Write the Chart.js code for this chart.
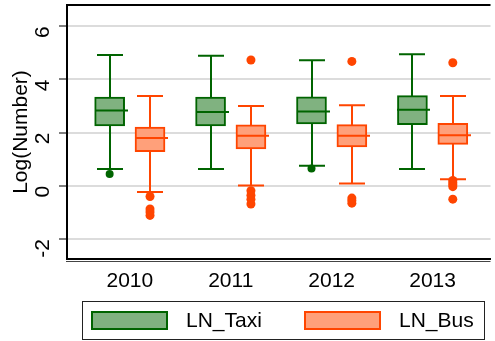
<!DOCTYPE html>
<html>
<head>
<meta charset="utf-8">
<script src="https://cdn.jsdelivr.net/npm/chart.js@4"></script>
<style>
  html, body { margin: 0; padding: 0; background: #fff; }
  #wrap { width: 495px; height: 341px; }
</style>
</head>
<body>
<div id="wrap"><canvas id="c" width="495" height="341"></canvas></div>
<script>
// Yearly distributions of log counts, one box per vehicle type
const years = ['2010', '2011', '2012', '2013'];
const seriesNames = ['LN_Taxi', 'LN_Bus'];

const taxiLow     = [0.63, 0.63, 0.76, 0.63];
const taxiQ1      = [2.25, 2.25, 2.33, 2.30];
const taxiMedian  = [2.83, 2.78, 2.80, 2.86];
const taxiQ3      = [3.34, 3.34, 3.35, 3.39];
const taxiHigh    = [4.92, 4.89, 4.72, 4.95];
const taxiOutliers = [[0.45], [], [0.65], []];

const busLow      = [-0.23, 0.01, 0.09, 0.25];
const busQ1       = [1.29, 1.39, 1.46, 1.56];
const busMedian   = [1.80, 1.88, 1.88, 1.90];
const busQ3       = [2.21, 2.29, 2.30, 2.35];
const busHigh     = [3.38, 3.00, 3.03, 3.38];
const busOutliers = [
  [-0.40, -0.87, -0.98, -1.11],
  [4.73, -0.18, -0.35, -0.50, -0.68],
  [4.68, -0.46, -0.55, -0.65],
  [4.63, 0.20, 0.12, 0.04, -0.03, -0.50]
];

const yTicks = [-2, 0, 2, 4, 6];

const TAXI_LINE = 'rgb(0,100,0)';
const TAXI_FILL = 'rgb(128,178,128)';
const BUS_LINE = 'rgb(255,69,0)';
const BUS_FILL = 'rgb(255,160,122)';
const SHIFT = 0.2;
const FONT = { family: 'Liberation Sans, Arial, sans-serif', size: 21 };

function boxData(q1, q3, shift) {
  return q1.map((v, i) => ({ x: i + shift, y: [v, q3[i]] }));
}
function outlierData(list, shift) {
  const pts = [];
  list.forEach((vals, i) => vals.forEach(v => pts.push({ x: i + shift, y: v })));
  return pts;
}
function noScalePadding(s) {
  s.paddingTop = 0; s.paddingBottom = 0; s.paddingLeft = 0; s.paddingRight = 0;
}

const groups = [
  { low: taxiLow, med: taxiMedian, high: taxiHigh, q1: taxiQ1, q3: taxiQ3, shift: -SHIFT, color: TAXI_LINE },
  { low: busLow, med: busMedian, high: busHigh, q1: busQ1, q3: busQ3, shift: SHIFT, color: BUS_LINE }
];

// whiskers and caps behind the boxes, medians on top
const boxPlotLines = {
  id: 'boxPlotLines',
  beforeDatasetsDraw(chart) {
    const { ctx, scales: { x, y } } = chart;
    ctx.save();
    ctx.lineWidth = 2;
    groups.forEach(g => {
      ctx.strokeStyle = g.color;
      g.low.forEach((lo, i) => {
        const cx = Math.round(x.getPixelForValue(i + g.shift));
        const yLo = y.getPixelForValue(lo), yHi = y.getPixelForValue(g.high[i]);
        ctx.beginPath();
        ctx.moveTo(cx, yHi); ctx.lineTo(cx, yLo);
        ctx.moveTo(cx - 13, yHi); ctx.lineTo(cx + 13, yHi);
        ctx.moveTo(cx - 13, yLo); ctx.lineTo(cx + 13, yLo);
        ctx.stroke();
      });
    });
    ctx.restore();
  },
  afterDatasetsDraw(chart) {
    const { ctx, scales: { x, y } } = chart;
    ctx.save();
    ctx.lineWidth = 2;
    groups.forEach(g => {
      ctx.strokeStyle = g.color;
      g.med.forEach((m, i) => {
        const cx = Math.round(x.getPixelForValue(i + g.shift));
        const ym = y.getPixelForValue(m);
        ctx.beginPath();
        ctx.moveTo(cx - 15, ym); ctx.lineTo(cx + 18, ym);
        ctx.stroke();
      });
    });
    ctx.restore();
  },
  afterDraw(chart) {
    const { ctx, chartArea: a } = chart;
    ctx.save();
    ctx.strokeStyle = '#000';
    ctx.lineWidth = 2;
    ctx.beginPath();
    ctx.moveTo(a.left - 1, a.top); ctx.lineTo(a.right, a.top);
    ctx.stroke();
    ctx.lineWidth = 1;
    ctx.strokeStyle = '#444';
    ctx.beginPath();
    ctx.moveTo(a.left - 1, a.bottom + 2.5); ctx.lineTo(a.right, a.bottom + 2.5);
    ctx.stroke();

    // legend
    const lx = 82, ly = 301, lw = 402, lh = 38;
    ctx.strokeStyle = '#222';
    ctx.lineWidth = 1;
    ctx.strokeRect(lx + 0.5, ly + 0.5, lw, lh);
    const items = [
      { x: 91, fill: TAXI_FILL, line: TAXI_LINE, tx: 186 },
      { x: 304, fill: BUS_FILL, line: BUS_LINE, tx: 399 }
    ];
    ctx.font = FONT.size + 'px ' + FONT.family;
    ctx.textBaseline = 'middle';
    ctx.textAlign = 'left';
    items.forEach((it, k) => {
      ctx.fillStyle = it.fill;
      ctx.fillRect(it.x, 311, 77, 19);
      ctx.strokeStyle = it.line;
      ctx.lineWidth = 2;
      ctx.strokeRect(it.x + 1, 312, 75, 17);
      ctx.fillStyle = '#000';
      ctx.fillText(seriesNames[k], it.tx, 321);
    });
    ctx.restore();
  }
};

new Chart(document.getElementById('c'), {
  type: 'bar',
  data: {
    datasets: [
      { label: seriesNames[0], data: boxData(taxiQ1, taxiQ3, -SHIFT), backgroundColor: TAXI_FILL,
        borderColor: TAXI_LINE, borderWidth: 2, borderSkipped: false, barThickness: 30, grouped: false, order: 2 },
      { label: seriesNames[1], data: boxData(busQ1, busQ3, SHIFT), backgroundColor: BUS_FILL,
        borderColor: BUS_LINE, borderWidth: 2, borderSkipped: false, barThickness: 30, grouped: false, order: 2 },
      { type: 'scatter', label: seriesNames[0] + ' outliers', data: outlierData(taxiOutliers, -SHIFT),
        backgroundColor: TAXI_LINE, borderColor: TAXI_LINE, pointRadius: 4, borderWidth: 0, order: 1 },
      { type: 'scatter', label: seriesNames[1] + ' outliers', data: outlierData(busOutliers, SHIFT),
        backgroundColor: BUS_LINE, borderColor: BUS_LINE, pointRadius: 4.5, borderWidth: 0, order: 1 }
    ]
  },
  options: {
    responsive: false,
    animation: false,
    events: [],
    layout: { padding: { top: 5, right: 0, bottom: 46, left: 0 } },
    plugins: { legend: { display: false }, tooltip: { enabled: false } },
    scales: {
      x: {
        type: 'linear',
        offset: false,
        min: -0.6225,
        max: 3.5735,
        afterBuildTicks: s => { s.ticks = years.map((_, i) => ({ value: i })); },
        afterFit: s => { s.height = 36; noScalePadding(s); },
        grid: { display: false, drawTicks: false, offset: false },
        border: { display: true, color: '#000', width: 2 },
        ticks: { color: '#000', font: FONT, padding: 10, maxRotation: 0, autoSkip: false,
                 callback: v => years[v] }
      },
      y: {
        min: -2.75,
        max: 6.8,
        afterBuildTicks: s => { s.ticks = yTicks.map(v => ({ value: v })); },
        afterFit: s => { s.width = 67; noScalePadding(s); },
        grid: { color: '#dcdcdc', lineWidth: 2, tickColor: '#000', tickLength: 8, drawTicks: true, tickWidth: 1 },
        border: { display: true, color: '#000', width: 2 },
        ticks: { color: '#000', font: FONT, padding: 16, minRotation: 90, maxRotation: 90,
                 callback: v => String(v) },
        title: { display: true, text: 'Log(Number)', color: '#000', font: FONT, padding: { top: 9, bottom: 0 } }
      }
    }
  },
  plugins: [boxPlotLines]
});
</script>
</body>
</html>
